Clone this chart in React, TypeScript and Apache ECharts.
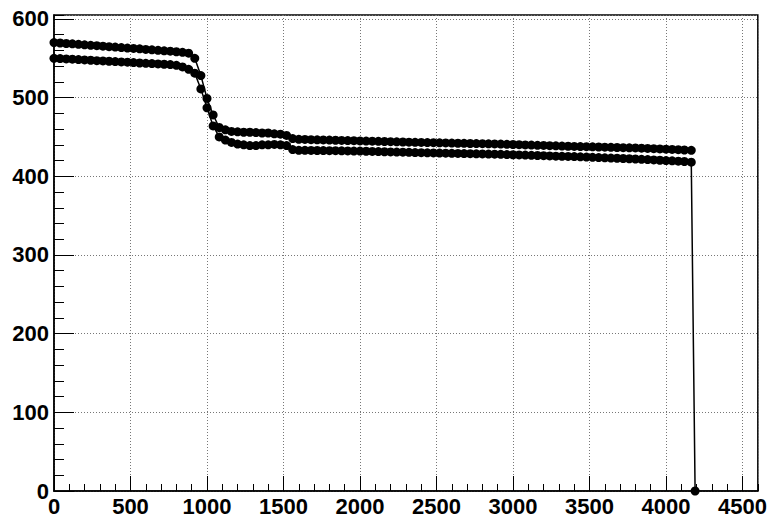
import React, { useEffect, useRef } from "react";
import * as echarts from "echarts";

const xValues = [
  0, 40, 80, 120, 160, 200, 240, 280, 320, 360, 400, 440, 480, 520, 560, 600, 640, 680, 720, 760,
  800, 840, 880, 920, 960, 1000, 1040, 1080, 1120, 1160, 1200, 1240, 1280, 1320, 1360, 1400, 1440, 1480,
  1520, 1560, 1600, 1640, 1680, 1720, 1760, 1800, 1840, 1880, 1920, 1960, 2000, 2040, 2080, 2120, 2160,
  2200, 2240, 2280, 2320, 2360, 2400, 2440, 2480, 2520, 2560, 2600, 2640, 2680, 2720, 2760, 2800, 2840,
  2880, 2920, 2960, 3000, 3040, 3080, 3120, 3160, 3200, 3240, 3280, 3320, 3360, 3400, 3440, 3480, 3520,
  3560, 3600, 3640, 3680, 3720, 3760, 3800, 3840, 3880, 3920, 3960, 4000, 4040, 4080, 4120, 4165,
];

const upperValues = [
  570, 569.4, 568.8, 568.3, 567.7, 567.1, 566.5, 566.0, 565.4, 564.8, 564.2, 563.6, 563.0, 562.5, 562.0,
  561.3, 560.7, 560.1, 559.5, 559.0, 558.3, 557.6, 556.5, 550.0, 528.0, 499.0, 478.0, 462.0, 459.0, 457.0,
  456.5, 456.0, 456.0, 455.5, 455.0, 455.0, 454.0, 453.5, 452.0, 448.0, 447.0, 446.8, 446.6, 446.4, 446.2,
  446.0, 445.8, 445.6, 445.4, 445.2, 445.0, 444.8, 444.6, 444.4, 444.2, 444.0, 443.8, 443.6, 443.4, 443.2,
  443.0, 442.8, 442.7, 442.5, 442.4, 442.2, 442.0, 441.9, 441.7, 441.6, 441.4, 441.2, 441.1, 440.9, 440.6,
  440.4, 440.2, 439.9, 439.7, 439.4, 439.2, 438.9, 438.7, 438.4, 438.2, 438.0, 437.8, 437.6, 437.4, 437.2,
  437.0, 436.8, 436.6, 436.4, 436.2, 436.0, 435.7, 435.4, 435.1, 434.8, 434.5, 434.2, 433.8, 433.4, 433.0,
];

const lowerValues = [
  550, 549.6, 549.2, 548.8, 548.3, 547.9, 547.5, 547.0, 546.6, 546.2, 545.8, 545.4, 545.0, 544.5, 544.0,
  543.6, 543.2, 542.8, 542.4, 542.0, 541.0, 539.0, 536.0, 531.0, 511.0, 487.0, 464.0, 450.0, 446.0, 443.0,
  441.0, 440.0, 439.0, 439.0, 440.0, 440.0, 440.5, 440.0, 439.0, 434.0, 433.0, 433.0, 432.9, 432.8, 432.7,
  432.6, 432.5, 432.4, 432.2, 432.1, 432.0, 431.8, 431.6, 431.4, 431.2, 431.0, 430.8, 430.6, 430.4, 430.2,
  430.0, 429.8, 429.7, 429.5, 429.4, 429.2, 429.0, 428.9, 428.7, 428.6, 428.4, 428.2, 428.1, 427.9, 427.6,
  427.4, 427.2, 426.9, 426.6, 426.4, 426.2, 425.9, 425.6, 425.4, 425.2, 425.0, 424.7, 424.4, 424.1, 423.8,
  423.5, 423.2, 422.9, 422.6, 422.3, 422.0, 421.6, 421.2, 420.8, 420.4, 420.0, 419.6, 419.2, 418.8, 418.0,
];

// final point of the lower series (drop to zero)
const dropX = [4190];
const dropY = [0];

const xMin = 0;
const xMax = 4600;
const xMajor = 500;
const xMinor = 100;
const yMin = 0;
const yMax = 605;
const yMajor = 100;
const yMinor = 20;

export default function App() {
  const ref = useRef<HTMLDivElement>(null);

  useEffect(() => {
    if (!ref.current) return;
    const chart = echarts.init(ref.current, undefined, { renderer: "svg" });

    const upper = xValues.map((x, i) => [x, upperValues[i]]);
    const lower = xValues.map((x, i) => [x, lowerValues[i]]);
    dropX.forEach((x, i) => lower.push([x, dropY[i]]));

    const labelStyle = {
      color: "#000",
      fontSize: 22,
      fontWeight: "bold" as const,
      fontFamily: "Liberation Sans, Arial, Helvetica, sans-serif",
      formatter: (v: number) => String(v),
    };
    const gridLine = { show: true, lineStyle: { color: "#777", type: [1, 2] as number[], width: 1 } };

    chart.setOption({
      animation: false,
      backgroundColor: "#fff",
      grid: {
        left: 54,
        right: 10,
        top: 15,
        bottom: 24,
        show: true,
        borderColor: "#000",
        borderWidth: 1.5,
        backgroundColor: "transparent",
      },
      xAxis: [
        {
          type: "value",
          min: xMin,
          max: xMax,
          interval: xMajor,
          axisLine: { show: true, lineStyle: { color: "#000", width: 1.5 } },
          axisTick: { show: true, inside: true, length: 15, lineStyle: { color: "#000", width: 1 } },
          axisLabel: { ...labelStyle, margin: 4, showMaxLabel: false },
          splitLine: gridLine,
        },
        {
          type: "value",
          min: xMin,
          max: xMax,
          interval: xMinor,
          position: "bottom",
          axisLine: { show: false },
          axisTick: { show: true, inside: true, length: 7, lineStyle: { color: "#000", width: 1 } },
          axisLabel: { show: false },
          splitLine: { show: false },
        },
      ],
      yAxis: [
        {
          type: "value",
          min: yMin,
          max: yMax,
          interval: yMajor,
          axisLine: { show: true, lineStyle: { color: "#000", width: 1.5 } },
          axisTick: { show: true, inside: true, length: 20, lineStyle: { color: "#000", width: 1 } },
          axisLabel: { ...labelStyle, margin: 5, showMaxLabel: false },
          splitLine: gridLine,
        },
        {
          type: "value",
          min: yMin,
          max: yMax,
          interval: yMinor,
          position: "left",
          axisLine: { show: false },
          axisTick: { show: true, inside: true, length: 10, lineStyle: { color: "#000", width: 1 } },
          axisLabel: { show: false },
          splitLine: { show: false },
        },
      ],
      series: [
        {
          type: "line",
          data: upper,
          symbol: "circle",
          symbolSize: 9,
          showAllSymbol: true,
          clip: false,
          itemStyle: { color: "#000" },
          lineStyle: { color: "#000", width: 1.5 },
        },
        {
          type: "line",
          data: lower,
          symbol: "circle",
          symbolSize: 9,
          showAllSymbol: true,
          clip: false,
          itemStyle: { color: "#000" },
          lineStyle: { color: "#000", width: 1.5 },
        },
      ],
    });

    return () => chart.dispose();
  }, []);

  return (
    <div
      ref={ref}
      style={{ position: "absolute", left: 0, top: 0, width: 770, height: 517, background: "#fff" }}
    />
  );
}
